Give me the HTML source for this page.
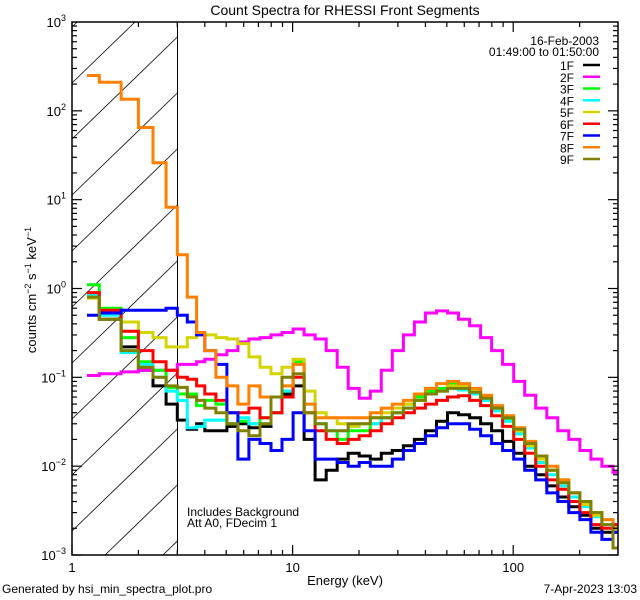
<!DOCTYPE html>
<html><head><meta charset="utf-8"><style>
html,body{margin:0;padding:0;background:#fff;width:640px;height:600px;overflow:hidden;}
svg{display:block;font-family:"Liberation Sans",sans-serif;}
</style></head><body>
<svg id="chart" width="640" height="600" viewBox="0 0 640 600" xmlns="http://www.w3.org/2000/svg">
<defs><clipPath id="plotClip"><rect x="72" y="22" width="546" height="533"/></clipPath></defs>
<rect x="0" y="0" width="640" height="600" fill="#fff"/>
<text x="345" y="15" font-size="14" text-anchor="middle">Count Spectra for RHESSI Front Segments</text>
<g id="hatch"></g>
<line x1="177.5" y1="22" x2="177.5" y2="555" stroke="#000" stroke-width="1"/>
<g id="series" clip-path="url(#plotClip)"></g>
<rect x="72" y="22" width="546" height="533" fill="none" stroke="#000" stroke-width="1.5"/>
<g id="axes"></g>
<text x="345" y="585" font-size="13" text-anchor="middle">Energy (keV)</text>
<text transform="translate(36,290) rotate(-90)" font-size="13" text-anchor="middle">counts cm<tspan font-size="9" dy="-5">−2</tspan><tspan dy="5"> s</tspan><tspan font-size="9" dy="-5">−1</tspan><tspan dy="5"> keV</tspan><tspan font-size="9" dy="-5">−1</tspan></text>
<text x="187" y="516" font-size="12">Includes Background</text>
<text x="187" y="527" font-size="12">Att A0, FDecim 1</text>
<text x="599" y="45" font-size="12" text-anchor="end">16-Feb-2003</text>
<text x="599" y="56" font-size="12" text-anchor="end">01:49:00 to 01:50:00</text>
<g id="legend"></g>
<text x="2" y="593" font-size="12">Generated by hsi_min_spectra_plot.pro</text>
<text x="637" y="593" font-size="12" text-anchor="end">7-Apr-2023 13:03</text>
</svg>
<script>
const lowEdges = [1.17,1.33,1.67,2.0,2.33,2.67,3.0,3.33,3.67,4.0];
const seriesNames = ['1F','2F','3F','4F','5F','6F','7F','8F','9F'];
const seriesColors = ['#000000','#ff00ff','#00ff00','#00ffff','#d4d400','#ff0000','#0000ff','#ff8000','#808000'];
const s1F = [0.8,0.45,0.22,0.12,0.08,0.05,0.033,0.026,0.03, 0.025,0.025,0.028,0.03,0.027,0.028,0.04,0.065,0.08,0.02,0.007,0.009,0.012,0.014,0.013,0.012,0.014,0.015,0.017,0.02,0.025,0.032,0.04,0.038,0.035,0.03,0.025,0.019,0.014,0.01,0.008,0.006,0.0045,0.0035,0.0028,0.002,0.0018,0.0018];
const s2F = [0.105,0.11,0.115,0.12,0.12,0.12,0.14,0.14,0.15, 0.16,0.18,0.2,0.25,0.27,0.28,0.3,0.32,0.35,0.3,0.27,0.2,0.13,0.075,0.058,0.07,0.12,0.2,0.3,0.42,0.53,0.56,0.53,0.45,0.38,0.28,0.2,0.14,0.09,0.063,0.045,0.035,0.025,0.02,0.015,0.012,0.01,0.0085];
const s3F = [1.1,0.6,0.28,0.15,0.12,0.077,0.065,0.065,0.048, 0.055,0.05,0.03,0.032,0.03,0.035,0.04,0.07,0.15,0.05,0.03,0.025,0.02,0.025,0.025,0.03,0.035,0.04,0.05,0.06,0.07,0.075,0.085,0.08,0.07,0.06,0.045,0.034,0.025,0.018,0.013,0.009,0.007,0.005,0.004,0.003,0.0025,0.002];
const s4F = [0.85,0.5,0.19,0.14,0.1,0.07,0.055,0.027,0.028, 0.033,0.033,0.03,0.035,0.03,0.03,0.04,0.07,0.14,0.05,0.03,0.025,0.025,0.028,0.03,0.03,0.035,0.04,0.045,0.055,0.065,0.07,0.075,0.072,0.065,0.055,0.042,0.032,0.023,0.016,0.011,0.008,0.006,0.0045,0.0035,0.0027,0.0022,0.002];
const s5F = [0.78,0.57,0.42,0.32,0.28,0.22,0.22,0.28,0.3, 0.3,0.28,0.27,0.24,0.17,0.13,0.11,0.13,0.16,0.07,0.04,0.035,0.03,0.028,0.03,0.035,0.04,0.045,0.05,0.055,0.065,0.07,0.08,0.08,0.07,0.06,0.045,0.035,0.025,0.017,0.012,0.009,0.007,0.005,0.0037,0.0028,0.0025,0.002];
const s6F = [0.9,0.57,0.33,0.2,0.15,0.12,0.1,0.095,0.08, 0.065,0.055,0.04,0.04,0.045,0.035,0.04,0.06,0.1,0.04,0.025,0.02,0.018,0.02,0.022,0.025,0.03,0.035,0.04,0.045,0.05,0.055,0.06,0.062,0.055,0.048,0.037,0.028,0.02,0.014,0.01,0.007,0.0055,0.004,0.003,0.0022,0.002,0.0022];
const s7F = [0.5,0.53,0.57,0.57,0.57,0.6,0.5,0.42,0.3, 0.2,0.14,0.04,0.012,0.02,0.018,0.015,0.02,0.04,0.025,0.012,0.012,0.011,0.01,0.011,0.01,0.01,0.012,0.015,0.018,0.022,0.027,0.03,0.03,0.026,0.022,0.018,0.015,0.012,0.009,0.007,0.005,0.004,0.003,0.0025,0.0018,0.0015,0.0018];
const s8F = [250,210,135,65,26,8.2,2.4,0.8,0.32, 0.2,0.1,0.08,0.05,0.08,0.06,0.06,0.08,0.14,0.05,0.035,0.035,0.035,0.035,0.035,0.04,0.045,0.05,0.055,0.065,0.075,0.085,0.09,0.085,0.075,0.063,0.048,0.037,0.027,0.019,0.013,0.01,0.007,0.005,0.004,0.003,0.0025,0.002];
const s9F = [0.8,0.45,0.2,0.13,0.1,0.08,0.077,0.06,0.055, 0.045,0.04,0.03,0.025,0.022,0.03,0.06,0.1,0.11,0.04,0.03,0.025,0.025,0.03,0.03,0.035,0.035,0.04,0.045,0.055,0.065,0.07,0.075,0.075,0.068,0.058,0.045,0.035,0.026,0.018,0.013,0.009,0.0065,0.005,0.004,0.003,0.0022,0.0012];
const seriesValues = [s1F,s2F,s3F,s4F,s5F,s6F,s7F,s8F,s9F];
const xTickLabels = ['1','10','100'];
const yTickExps = ['−3','−2','−1','0','1','2','3'];

const NS='http://www.w3.org/2000/svg';
const X0=72, X1=618, Y0=22, Y1=555, XMAX=Math.log10(298.5), YMIN=-3, YMAX=3;
function xs(e){return X0+(Math.log10(e))/XMAX*(X1-X0);}
function ys(v){return Y0+(YMAX-Math.log10(v))/(YMAX-YMIN)*(Y1-Y0);}
function mk(tag,attrs,parent){const el=document.createElementNS(NS,tag);for(const k in attrs)el.setAttribute(k,attrs[k]);parent.appendChild(el);return el;}

const edges = lowEdges.slice();
for(let k=1;k<=38;k++){edges.push(4*Math.pow(10,0.05*k));}

// hatch lines clipped manually to box
const hatch=document.getElementById('hatch');
const HX0=72, HX1=177.5, K=60/62;
for(let i=-4;i<14;i++){
  const yl=83+56*i; // y at x=HX0; y = yl - K*(x-HX0)
  let xa=HX0, xb=HX1;
  // y within [Y0,Y1]: x >= HX0 + (yl-Y1)/K, x <= HX0 + (yl-Y0)/K
  xa=Math.max(xa, HX0+(yl-Y1)/K);
  xb=Math.min(xb, HX0+(yl-Y0)/K);
  if(xb<=xa) continue;
  const ln=mk('line',{x1:xa.toFixed(1),y1:(yl-K*(xa-HX0)).toFixed(1),x2:xb.toFixed(1),y2:(yl-K*(xb-HX0)).toFixed(1),stroke:'#000','stroke-width':0.8},hatch);
  
  
}

const sg=document.getElementById('series');
seriesValues.forEach((vals,si)=>{
  let d='';
  for(let i=0;i<vals.length;i++){
    const xa=xs(edges[i]), xb=xs(Math.min(edges[i+1],298.5)), y=ys(vals[i]);
    d+=(i===0?'M':'L')+xa.toFixed(1)+','+y.toFixed(1)+'L'+xb.toFixed(1)+','+y.toFixed(1);
  }
  const p=mk('path',{d:d,fill:'none',stroke:seriesColors[si],'stroke-width':3,'stroke-linejoin':'miter'},sg);
  
  
});

const ax=document.getElementById('axes');
for(let dec=0;dec<3;dec++){
  for(let m=1;m<10;m++){
    const e=m*Math.pow(10,dec); if(e>298.5) break;
    const x=xs(e), len=(m===1)?10:5;
    const t1=mk('line',{x1:x,y1:Y1,x2:x,y2:Y1-len,stroke:'#000','stroke-width':1.2},ax);
    
    
    const t2=mk('line',{x1:x,y1:Y0,x2:x,y2:Y0+len,stroke:'#000','stroke-width':1.2},ax);
    
    
  }
}
xTickLabels.forEach((lab,i)=>{
  const t=mk('text',{x:xs(Math.pow(10,i)),y:572,'font-size':13,'text-anchor':'middle'},ax);
  t.textContent=lab;
  
  
});
for(let dec=-3;dec<3;dec++){
  for(let m=1;m<10;m++){
    const v=m*Math.pow(10,dec); const y=ys(v), len=(m===1)?10:5;
    const t1=mk('line',{x1:X0,y1:y,x2:X0+len,y2:y,stroke:'#000','stroke-width':1.2},ax);
    
    
    const t2=mk('line',{x1:X1,y1:y,x2:X1-len,y2:y,stroke:'#000','stroke-width':1.2},ax);
    
    
  }
}
yTickExps.forEach((ex,i)=>{
  const y=ys(Math.pow(10,i-3));
  const t=mk('text',{x:66,y:y+5,'font-size':13,'text-anchor':'end'},ax);
  t.innerHTML='10<tspan font-size="9" dy="-6">'+ex+'</tspan>';
  
  
});

const lg=document.getElementById('legend');
seriesNames.forEach((n,i)=>{
  const y=65+11.75*i;
  const t=mk('text',{x:574,y:y+5,'font-size':12,'text-anchor':'end'},lg);
  t.textContent=n;
  
  
  const l=mk('line',{x1:583,y1:y,x2:600,y2:y,stroke:seriesColors[i],'stroke-width':2.5},lg);
  
  
});
</script>
</body></html>
